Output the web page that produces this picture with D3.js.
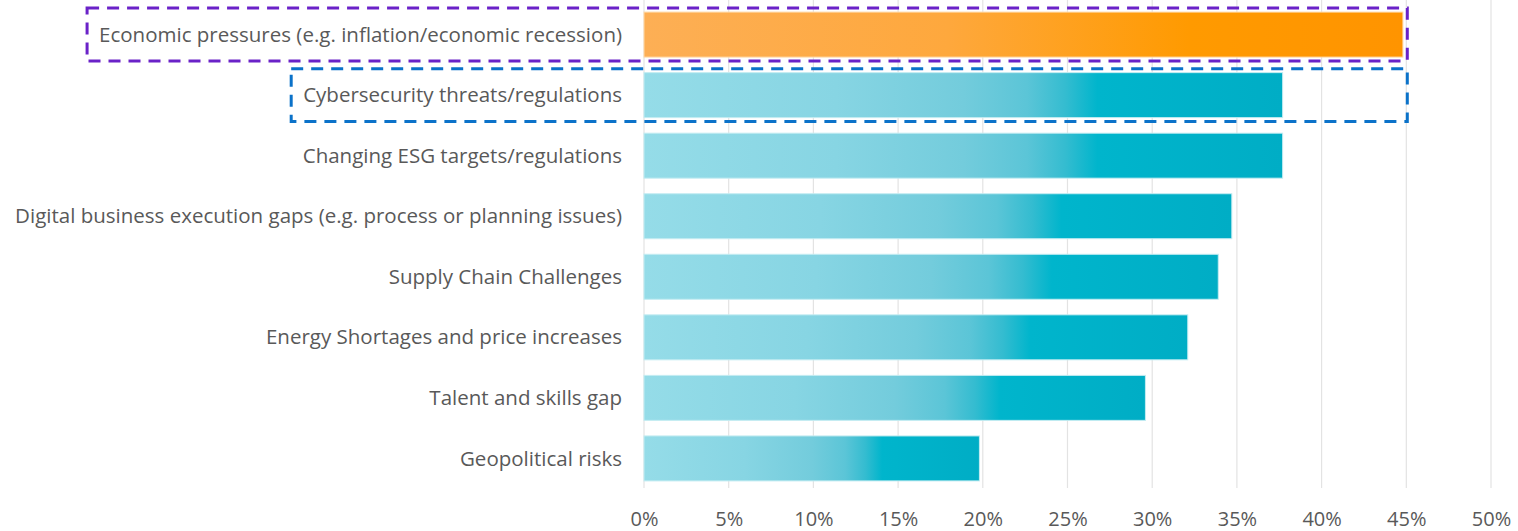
<!DOCTYPE html>
<html>
<head>
<meta charset="utf-8">
<script src="https://cdn.jsdelivr.net/npm/d3@7"></script>
<style>
  html, body { margin: 0; padding: 0; background: #fff; }
  #chart { width: 1518px; height: 531px; }
  text { font-family: "Open Sans", "Noto Sans", sans-serif; }
</style>
</head>
<body>
<div id="chart"></div>
<script>
// Survey: share of respondents naming each risk
const categories = [
  'Economic pressures (e.g. inflation/economic recession)',
  'Cybersecurity threats/regulations',
  'Changing ESG targets/regulations',
  'Digital business execution gaps (e.g. process or planning issues)',
  'Supply Chain Challenges',
  'Energy Shortages and price increases',
  'Talent and skills gap',
  'Geopolitical risks'
];
const values = [44.8, 37.7, 37.7, 34.7, 33.9, 32.1, 29.6, 19.8];
const tickValues = [0, 5, 10, 15, 20, 25, 30, 35, 40, 45, 50];
const highlights = [
  { category: categories[0], color: '#6a22c8', upTo: 45 },
  { category: categories[1], color: '#0b72c9', upTo: 45 }
];

function renderChart() {
  const el = document.getElementById('chart');
  const W = 1518, H = 531;
  const margin = { top: 3, right: 27, bottom: 41, left: 644 };
  const width = W - margin.left - margin.right;
  const height = H - margin.top - margin.bottom;

  const svg = d3.select(el).append('svg')
    .attr('width', W)
    .attr('height', H);

  const defs = svg.append('defs');
  const teal = defs.append('linearGradient').attr('id', 'g-teal');
  [[0, '#95dce8'], [0.3, '#87d5e3'], [0.5, '#73ccdc'], [0.6, '#5bc5d7'], [0.66, '#34bcd0'], [0.71, '#00b5cc'], [1, '#00adc5']]
    .forEach(([o, c]) => teal.append('stop').attr('offset', o).attr('stop-color', c));
  const orange = defs.append('linearGradient').attr('id', 'g-orange');
  [[0, '#fdaf55'], [0.4, '#fea83d'], [0.72, '#ff9a00'], [1, '#ff9400']]
    .forEach(([o, c]) => orange.append('stop').attr('offset', o).attr('stop-color', c));

  const g = svg.append('g').attr('transform', `translate(${margin.left},${margin.top})`);

  const x = d3.scaleLinear().domain([0, 50]).range([0, width]);
  const y = d3.scaleBand().domain(categories).range([0, height]).paddingInner(0.257).paddingOuter(0.15);

  // vertical gridlines
  g.append('g')
    .selectAll('line')
    .data(tickValues)
    .enter().append('line')
    .attr('x1', d => x(d)).attr('x2', d => x(d))
    .attr('y1', -margin.top).attr('y2', height - 2)
    .attr('stroke', '#e3e3e3')
    .attr('stroke-width', 1.2);

  // x axis labels
  const xAxis = g.append('g')
    .attr('transform', `translate(0,${height})`)
    .call(d3.axisBottom(x).tickValues(tickValues).tickFormat(d => d + '%').tickSize(0).tickPadding(22));
  xAxis.select('.domain').remove();
  xAxis.selectAll('text')
    .style('font-size', '20px')
    .style('fill', '#595959')
    .style('font-family', '"Open Sans", sans-serif');

  // bars
  g.selectAll('.bar')
    .data(categories)
    .enter().append('rect')
    .attr('class', 'bar')
    .attr('x', 0)
    .attr('y', d => y(d))
    .attr('width', (d, i) => x(values[i]))
    .attr('height', y.bandwidth())
    .attr('fill', (d, i) => i === 0 ? 'url(#g-orange)' : 'url(#g-teal)')
    .attr('stroke', (d, i) => i === 0 ? '#ffd9a8' : '#c4ecf2')
    .attr('stroke-width', 1);

  // category labels
  const labels = g.selectAll('.label')
    .data(categories)
    .enter().append('text')
    .attr('class', 'label')
    .attr('x', -22)
    .attr('y', d => y(d) + y.bandwidth() / 2)
    .attr('dy', '0.35em')
    .attr('text-anchor', 'end')
    .style('font-size', '20.5px')
    .style('fill', '#595959')
    .text(d => d);

  // dashed highlight boxes
  highlights.forEach(h => {
    const node = labels.filter(d => d === h.category).node();
    const bb = node.getBBox();
    const x0 = bb.x - 12;
    const x1 = x(h.upTo) + 1;
    const y0 = y(h.category) - 4;
    const y1 = y(h.category) + y.bandwidth() + 4;
    g.append('rect')
      .attr('x', x0).attr('y', y0)
      .attr('width', x1 - x0).attr('height', y1 - y0)
      .attr('fill', 'none')
      .attr('stroke', h.color)
      .attr('stroke-width', 3)
      .attr('stroke-dasharray', '12 8');
  });
}

renderChart();
</script>
</body>
</html>
